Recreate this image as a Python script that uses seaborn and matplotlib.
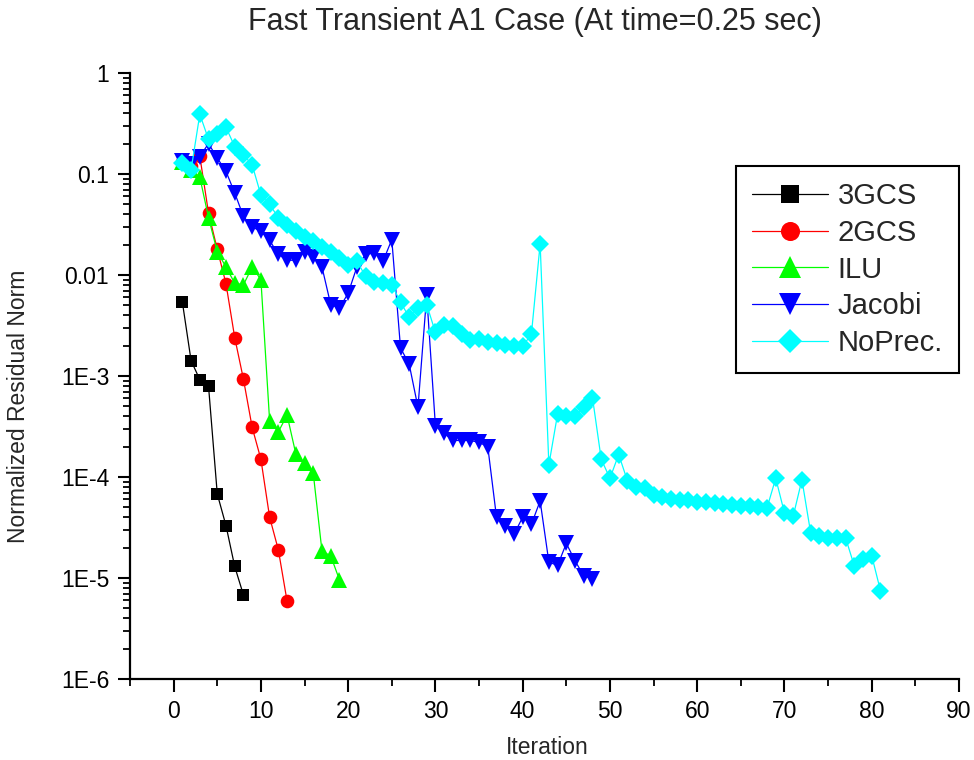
import numpy as np
import pandas as pd
import matplotlib
matplotlib.use("Agg")
import matplotlib.pyplot as plt
from matplotlib.ticker import LogLocator, NullFormatter, MultipleLocator
import seaborn as sns

# residual history
iter_3gcs = list(range(1, 9))
res_3gcs = [5.4e-3, 1.42e-3, 9.2e-4, 7.9e-4, 6.8e-5, 3.3e-5, 1.3e-5, 6.8e-6]

iter_2gcs = list(range(1, 14))
res_2gcs = [0.13, 0.12, 0.15, 0.041, 0.018, 8.2e-3, 2.4e-3, 9.3e-4, 3.1e-4,
            1.5e-4, 4.0e-5, 1.9e-5, 5.9e-6]

iter_ilu = list(range(1, 20))
res_ilu = [0.13, 0.11, 0.093, 0.037, 0.017, 0.012, 8.3e-3, 8.0e-3, 0.012, 9.0e-3,
           3.6e-4, 2.8e-4, 4.1e-4, 1.7e-4, 1.37e-4, 1.09e-4, 1.84e-5, 1.66e-5, 9.6e-6]

iter_jacobi = list(range(1, 49))
res_jacobi = [0.136, 0.125, 0.149, 0.2, 0.144, 0.106, 0.065, 0.038, 0.030, 0.027,
              0.022, 0.016, 0.014, 0.014, 0.017, 0.015, 0.012, 5.1e-3, 4.7e-3, 6.6e-3,
              0.012, 0.016, 0.0165, 0.0137, 0.0224, 1.9e-3, 1.3e-3, 4.9e-4, 6.3e-3, 3.2e-4,
              2.7e-4, 2.3e-4, 2.3e-4, 2.3e-4, 2.2e-4, 2.0e-4, 4.0e-5, 3.3e-5, 2.7e-5, 4.0e-5,
              3.4e-5, 5.8e-5, 1.44e-5, 1.33e-5, 2.2e-5, 1.48e-5, 1.05e-5, 9.8e-6]

iter_noprec = list(range(1, 82))
res_noprec = [0.128, 0.110, 0.39, 0.22, 0.25, 0.29, 0.187, 0.155, 0.123, 0.062,
              0.050, 0.037, 0.0315, 0.027, 0.024, 0.0215, 0.019, 0.017, 0.0148, 0.0127,
              0.0137, 9.7e-3, 8.5e-3, 8.3e-3, 8.0e-3, 5.4e-3, 3.8e-3, 4.7e-3, 5.1e-3, 2.7e-3,
              3.2e-3, 3.1e-3, 2.6e-3, 2.25e-3, 2.3e-3, 2.16e-3, 2.13e-3, 2.02e-3, 1.97e-3, 1.97e-3,
              2.6e-3, 0.0203, 1.32e-4, 4.2e-4, 4.0e-4, 4.0e-4, 4.9e-4, 6.1e-4, 1.5e-4, 9.7e-5,
              1.67e-4, 9.2e-5, 7.9e-5, 7.7e-5, 6.6e-5, 6.3e-5, 6.0e-5, 5.95e-5, 5.9e-5, 5.7e-5,
              5.65e-5, 5.5e-5, 5.4e-5, 5.3e-5, 5.2e-5, 5.15e-5, 5.0e-5, 4.95e-5, 9.7e-5, 4.4e-5,
              4.1e-5, 9.4e-5, 2.8e-5, 2.6e-5, 2.5e-5, 2.5e-5, 2.5e-5, 1.32e-5, 1.54e-5, 1.66e-5,
              7.5e-6]

y_ticks = [1, 0.1, 0.01, 1e-3, 1e-4, 1e-5, 1e-6]
y_tick_labels = ["1", "0.1", "0.01", "1E-3", "1E-4", "1E-5", "1E-6"]

sns.set_style("ticks")
plt.rcParams["font.family"] = ["Liberation Sans", "DejaVu Sans"]

fig = plt.figure(figsize=(9.74, 7.6), dpi=100)
ax = fig.add_axes([130 / 974, 1 - 679 / 760, 829 / 974, 606 / 760])

series = [
    ("3GCS", iter_3gcs, res_3gcs, "black", "s", 9),
    ("2GCS", iter_2gcs, res_2gcs, "red", "o", 9.8),
    ("ILU", iter_ilu, res_ilu, "#00FF00", "^", 11.5),
    ("Jacobi", iter_jacobi, res_jacobi, "blue", "v", 11.5),
    ("NoPrec.", iter_noprec, res_noprec, "cyan", "D", 8.8),
]
for name, xs, ys, col, mk, ms in series:
    df = pd.DataFrame({"Iteration": xs, "Residual": ys})
    sns.lineplot(data=df, x="Iteration", y="Residual", ax=ax, color=col,
                 marker=mk, markersize=ms, markeredgewidth=0, linewidth=0.9,
                 label=name, sort=False, estimator=None)

ax.set_yscale("log")
ax.set_ylim(1e-6, 1)
ax.set_xlim(-5, 90)
ax.set_yticks(y_ticks)
ax.set_yticklabels(y_tick_labels)
ax.yaxis.set_minor_locator(LogLocator(base=10, subs=np.arange(2, 10)))
ax.yaxis.set_minor_formatter(NullFormatter())
ax.xaxis.set_major_locator(MultipleLocator(10))
ax.xaxis.set_minor_locator(MultipleLocator(5))
ax.set_xticks(range(0, 91, 10))

sns.despine(ax=ax)
for s in ["left", "bottom"]:
    ax.spines[s].set_linewidth(1.6)
    ax.spines[s].set_color("black")
ax.tick_params(axis="both", which="major", length=9, width=1.5, labelsize=16.5,
               color="black", labelcolor="black")
ax.tick_params(axis="both", which="minor", length=5, width=1.3, color="black")
ax.tick_params(axis="y", pad=6)
ax.tick_params(axis="x", pad=6)

ax.set_xlabel("Iteration", fontsize=16.5)
ax.set_ylabel("Normalized Residual Norm", fontsize=16.5)
ax.xaxis.set_label_coords(0.503, -0.094)
ax.yaxis.set_label_coords(-0.121, 0.45)
ax.set_title("Fast Transient A1 Case (At time=0.25 sec)", fontsize=22, pad=31, x=0.488)

leg = ax.legend(loc="upper right", bbox_to_anchor=(1.0, 0.8465), fontsize=21,
                frameon=True, fancybox=False, framealpha=1, edgecolor="black",
                borderaxespad=0, handlelength=2.6, handletextpad=0.35,
                labelspacing=0.3, borderpad=0.55, markerscale=1.4)
leg.get_frame().set_linewidth(1.5)

fig.savefig("out.png", dpi=100)
